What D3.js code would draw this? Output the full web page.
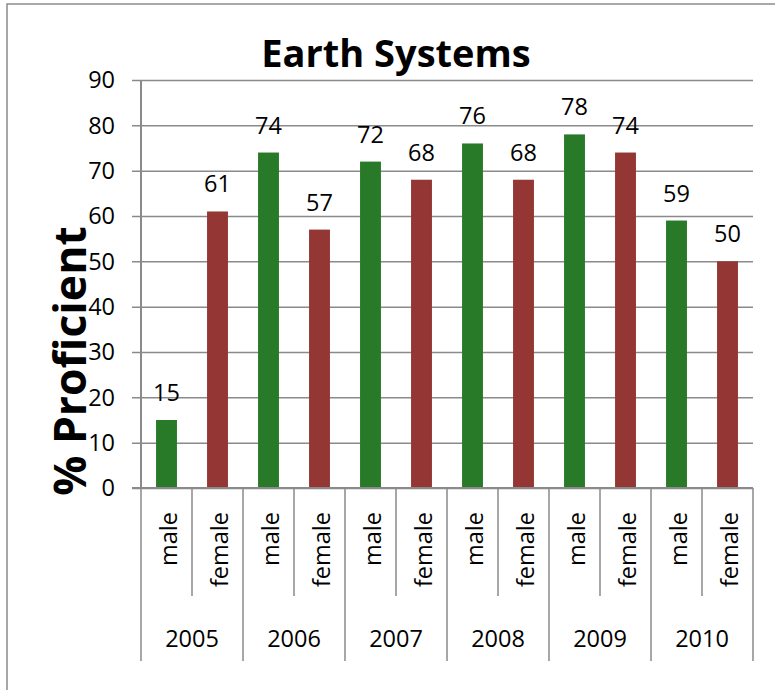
<!DOCTYPE html>
<html>
<head>
<meta charset="utf-8">
<script src="https://cdn.jsdelivr.net/npm/d3@7"></script>
<style>
  html, body { margin: 0; padding: 0; background: #fff; }
  svg { display: block; font-family: "Open Sans", "Liberation Sans", sans-serif; }
</style>
</head>
<body>
<svg id="chart" width="775" height="690"></svg>
<script>
// Percent proficient in Earth Systems, by year and gender
const years = ["2005", "2006", "2007", "2008", "2009", "2010"];
const genders = ["male", "female"];
const maleValues = [15, 74, 72, 76, 78, 59];
const femaleValues = [61, 57, 68, 68, 74, 50];
const yTickValues = [0, 10, 20, 30, 40, 50, 60, 70, 80, 90];

const colors = { male: "#287a28", female: "#943634" };
const gridColor = "#8a8a8a";

// Flatten into one row per bar, in year/gender order
const rows = [];
years.forEach((yr, i) => {
  rows.push({ key: yr + "-male", year: yr, gender: "male", value: maleValues[i] });
  rows.push({ key: yr + "-female", year: yr, gender: "female", value: femaleValues[i] });
});

const svg = d3.select("#chart");

// Chart frame
svg.append("rect")
  .attr("x", 7).attr("y", 4)
  .attr("width", 820).attr("height", 720)
  .attr("fill", "none")
  .attr("stroke", "#8c8c8c")
  .attr("stroke-width", 1.5);

const plot = { left: 141, right: 753, top: 80, bottom: 488 };

const x = d3.scaleBand()
  .domain(rows.map(d => d.key))
  .range([plot.left, plot.right])
  .padding(0);

const barWidth = x.bandwidth() * 0.41;

const y = d3.scaleLinear()
  .domain([0, 90])
  .range([plot.bottom, plot.top]);

// Horizontal gridlines with outside tick marks
const yAxis = d3.axisLeft(y)
  .tickValues(yTickValues)
  .tickSize(-(plot.right - plot.left))
  .tickPadding(0)
  .tickFormat("");

const yAxisG = svg.append("g")
  .attr("transform", `translate(${plot.left},0)`)
  .call(yAxis);
yAxisG.select(".domain").remove();
yAxisG.selectAll(".tick line")
  .attr("x1", -9)
  .attr("stroke", gridColor)
  .attr("stroke-width", 1.5);

// Tick labels
svg.append("g")
  .selectAll("text")
  .data(yTickValues)
  .join("text")
  .attr("x", 115)
  .attr("y", d => y(d))
  .attr("dy", "0.36em")
  .attr("text-anchor", "end")
  .attr("font-size", 23.5)
  .attr("fill", "#000")
  .text(d => d);

// Bars
svg.append("g")
  .selectAll("rect")
  .data(rows)
  .join("rect")
  .attr("x", d => x(d.key) + (x.bandwidth() - barWidth) / 2)
  .attr("y", d => y(d.value))
  .attr("width", barWidth)
  .attr("height", d => y(0) - y(d.value))
  .attr("fill", d => colors[d.gender]);

// Value labels above bars
svg.append("g")
  .selectAll("text")
  .data(rows)
  .join("text")
  .attr("x", d => x(d.key) + x.bandwidth() / 2)
  .attr("y", d => y(d.value) - 19)
  .attr("text-anchor", "middle")
  .attr("font-size", 23.5)
  .attr("fill", "#000")
  .text(d => d.value);

// Left axis line and baseline
svg.append("line")
  .attr("x1", plot.left).attr("x2", plot.left)
  .attr("y1", plot.top).attr("y2", plot.bottom)
  .attr("stroke", gridColor).attr("stroke-width", 2);
svg.append("line")
  .attr("x1", plot.left - 9).attr("x2", plot.right)
  .attr("y1", plot.bottom).attr("y2", plot.bottom)
  .attr("stroke", gridColor).attr("stroke-width", 2);

// Category dividers: short between genders, long between years
const step = x.step();
const dividers = d3.range(rows.length + 1).map(i => ({
  x: plot.left + i * step,
  long: i % 2 === 0
}));
svg.append("g")
  .selectAll("line")
  .data(dividers)
  .join("line")
  .attr("x1", d => d.x).attr("x2", d => d.x)
  .attr("y1", plot.bottom)
  .attr("y2", d => d.long ? 661 : 596)
  .attr("stroke", gridColor)
  .attr("stroke-width", 1.5);

// Gender labels (rotated)
svg.append("g")
  .selectAll("text")
  .data(rows)
  .join("text")
  .attr("transform", d => `translate(${x(d.key) + x.bandwidth() / 2 + 10},512) rotate(-90)`)
  .attr("text-anchor", "end")
  .attr("font-size", 23.5)
  .attr("fill", "#000")
  .text(d => d.gender);

// Year labels
svg.append("g")
  .selectAll("text")
  .data(years)
  .join("text")
  .attr("x", (d, i) => plot.left + (i * 2 + 1) * step)
  .attr("y", 647)
  .attr("text-anchor", "middle")
  .attr("font-size", 23.5)
  .attr("fill", "#000")
  .text(d => d);

// Chart title
svg.append("text")
  .attr("x", 396)
  .attr("y", 67)
  .attr("text-anchor", "middle")
  .attr("font-size", 38)
  .attr("font-weight", "bold")
  .attr("fill", "#000")
  .text("Earth Systems");

// Value axis title
svg.append("text")
  .attr("transform", "translate(86,361) rotate(-90)")
  .attr("text-anchor", "middle")
  .attr("font-size", 44.5)
  .attr("font-weight", "bold")
  .attr("fill", "#000")
  .text("% Proficient");
</script>
</body>
</html>
